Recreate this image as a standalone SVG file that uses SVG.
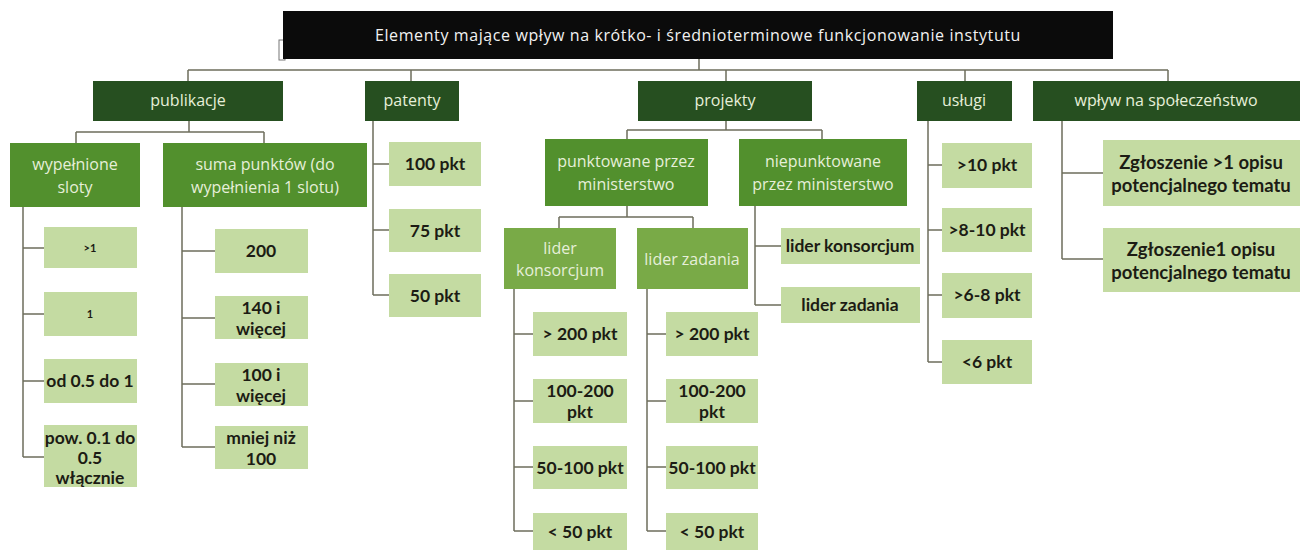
<svg xmlns="http://www.w3.org/2000/svg" width="1302" height="556" viewBox="0 0 1302 556">
<style>
.dark{fill:#264f20}
.mid{fill:#52902d}
.lid{fill:#79aa47}
.leaf{fill:#c4dba2}
.lt{font-family:"Open Sans","DejaVu Sans",sans-serif;font-size:16px;fill:#e6efd9;text-anchor:middle}
.ttl{letter-spacing:0.6px;fill:#f2f2f2}
.bt{font-family:Lato,"Liberation Sans",sans-serif;font-weight:700;font-size:17.5px;fill:#1c1c14;text-anchor:middle}
.sm{font-size:11px}
.big{font-size:18.5px}
.cn{fill:none;stroke:#6e6e5c;stroke-width:1.5}
</style>
<rect width="1302" height="556" fill="#ffffff"/>
<g id="connectors" class="cn">
<rect x="279" y="40" width="6" height="20" stroke="#777" stroke-width="1"/>
<path d="M699 59V70M188 70H1168M188 70V81M411 70V81M726 70V81M965 70V81M1168 70V81"/>
<path d="M189 121V132M76 132H264M76 132V143M264 132V143"/>
<path d="M23 207V457M23 248H44M23 314H44M23 381H44M23 457H44"/>
<path d="M182 207V447M182 251H215M182 318H215M182 384H215M182 447H215"/>
<path d="M373 121V295M373 164H389M373 230H389M373 295H389"/>
<path d="M726 120V130M627 130H822M627 130V139M822 130V139"/>
<path d="M627 206V217M559 217H693M559 217V228M693 217V228"/>
<path d="M514 289V531M514 334H533M514 401H533M514 467H533M514 531H533"/>
<path d="M647 289V531M647 334H666M647 401H666M647 467H666M647 531H666"/>
<path d="M755 206V305M755 246H781M755 305H781"/>
<path d="M928 121V362M928 165H942M928 230H942M928 295H942M928 362H942"/>
<path d="M1062 121V259M1062 173H1103M1062 259H1103"/>
</g>
<g id="root"><rect x="283" y="11" width="830" height="48" fill="#0b0b0b"/><text class="lt ttl" x="698" y="41">Elementy mające wpływ na krótko- i średnioterminowe funkcjonowanie instytutu</text></g>
<g id="publikacje"><rect class="dark" x="93" y="81" width="190" height="40"/><text class="lt" x="188" y="106">publikacje</text></g>
<g id="patenty"><rect class="dark" x="365" y="81" width="94" height="40"/><text class="lt" x="412" y="106">patenty</text></g>
<g id="projekty"><rect class="dark" x="638" y="81" width="174" height="40"/><text class="lt" x="725" y="106">projekty</text></g>
<g id="uslugi"><rect class="dark" x="917" y="81" width="95" height="40"/><text class="lt" x="964" y="106">usługi</text></g>
<g id="wplyw"><rect class="dark" x="1033" y="81" width="267" height="40"/><text class="lt" x="1166" y="106">wpływ na społeczeństwo</text></g>
<g id="wypelnione"><rect class="mid" x="10" y="143" width="130" height="64"/><text class="lt" x="75" y="170">wypełnione</text><text class="lt" x="75" y="193">sloty</text></g>
<g id="suma"><rect class="mid" x="163" y="143" width="204" height="64"/><text class="lt" x="265" y="170">suma punktów (do</text><text class="lt" x="265" y="193">wypełnienia 1 slotu)</text></g>
<g id="punktowane"><rect class="mid" x="545" y="139" width="163" height="67"/><text class="lt" x="626" y="167">punktowane przez</text><text class="lt" x="626" y="190">ministerstwo</text></g>
<g id="niepunktowane"><rect class="mid" x="739" y="139" width="168" height="67"/><text class="lt" x="823" y="167">niepunktowane</text><text class="lt" x="823" y="190">przez ministerstwo</text></g>
<g id="lider-konsorcjum-p"><rect class="lid" x="504" y="228" width="112" height="61"/><text class="lt" x="560" y="254">lider</text><text class="lt" x="560" y="276">konsorcjum</text></g>
<g id="lider-zadania-p"><rect class="lid" x="637" y="228" width="111" height="61"/><text class="lt" x="692" y="265">lider zadania</text></g>
<g id="s1"><rect class="leaf" x="44" y="227" width="93" height="41"/><text class="bt sm" x="90" y="252">&gt;1</text></g>
<g id="s2"><rect class="leaf" x="44" y="292" width="93" height="44"/><text class="bt sm" x="90" y="318">1</text></g>
<g id="s3"><rect class="leaf" x="44" y="359" width="93" height="44"/><text class="bt" x="90" y="387">od 0.5 do 1</text></g>
<g id="s4"><rect class="leaf" x="44" y="425" width="93" height="62"/><text class="bt" x="90" y="444">pow. 0.1 do</text><text class="bt" x="90" y="464">0.5</text><text class="bt" x="90" y="484">włącznie</text></g>
<g id="p1"><rect class="leaf" x="215" y="229" width="93" height="44"/><text class="bt" x="261" y="257">200</text></g>
<g id="p2"><rect class="leaf" x="215" y="296" width="93" height="43"/><text class="bt" x="261" y="314">140 i</text><text class="bt" x="261" y="335">więcej</text></g>
<g id="p3"><rect class="leaf" x="215" y="363" width="93" height="43"/><text class="bt" x="261" y="381">100 i</text><text class="bt" x="261" y="402">więcej</text></g>
<g id="p4"><rect class="leaf" x="215" y="426" width="93" height="43"/><text class="bt" x="261" y="444">mniej niż</text><text class="bt" x="261" y="465">100</text></g>
<g id="t1"><rect class="leaf" x="389" y="142" width="92" height="44"/><text class="bt" x="435" y="170">100 pkt</text></g>
<g id="t2"><rect class="leaf" x="389" y="209" width="92" height="43"/><text class="bt" x="435" y="237">75 pkt</text></g>
<g id="t3"><rect class="leaf" x="389" y="274" width="92" height="43"/><text class="bt" x="435" y="302">50 pkt</text></g>
<g id="lk1"><rect class="leaf" x="533" y="312" width="94" height="44"/><text class="bt" x="580" y="340">&gt; 200 pkt</text></g>
<g id="lk2"><rect class="leaf" x="533" y="379" width="94" height="44"/><text class="bt" x="580" y="397">100-200</text><text class="bt" x="580" y="418">pkt</text></g>
<g id="lk3"><rect class="leaf" x="533" y="446" width="94" height="43"/><text class="bt" x="580" y="474">50-100 pkt</text></g>
<g id="lk4"><rect class="leaf" x="533" y="513" width="94" height="37"/><text class="bt" x="580" y="538">&lt; 50 pkt</text></g>
<g id="lz1"><rect class="leaf" x="666" y="312" width="92" height="44"/><text class="bt" x="712" y="340">&gt; 200 pkt</text></g>
<g id="lz2"><rect class="leaf" x="666" y="379" width="92" height="44"/><text class="bt" x="712" y="397">100-200</text><text class="bt" x="712" y="418">pkt</text></g>
<g id="lz3"><rect class="leaf" x="666" y="446" width="92" height="43"/><text class="bt" x="712" y="474">50-100 pkt</text></g>
<g id="lz4"><rect class="leaf" x="666" y="513" width="92" height="37"/><text class="bt" x="712" y="538">&lt; 50 pkt</text></g>
<g id="nk"><rect class="leaf" x="781" y="228" width="139" height="36"/><text class="bt" x="850" y="252">lider konsorcjum</text></g>
<g id="nz"><rect class="leaf" x="781" y="287" width="139" height="36"/><text class="bt" x="850" y="311">lider zadania</text></g>
<g id="u1"><rect class="leaf" x="942" y="143" width="90" height="45"/><text class="bt" x="987" y="171">&gt;10 pkt</text></g>
<g id="u2"><rect class="leaf" x="942" y="208" width="90" height="44"/><text class="bt" x="987" y="236">&gt;8-10 pkt</text></g>
<g id="u3"><rect class="leaf" x="942" y="273" width="90" height="45"/><text class="bt" x="987" y="301">&gt;6-8 pkt</text></g>
<g id="u4"><rect class="leaf" x="942" y="340" width="90" height="44"/><text class="bt" x="987" y="368">&lt;6 pkt</text></g>
<g id="w1"><rect class="leaf" x="1103" y="140" width="197" height="66"/><text class="bt big" x="1201" y="169">Zgłoszenie &gt;1 opisu</text><text class="bt big" x="1201" y="192">potencjalnego tematu</text></g>
<g id="w2"><rect class="leaf" x="1103" y="228" width="197" height="64"/><text class="bt big" x="1201" y="256">Zgłoszenie1 opisu</text><text class="bt big" x="1201" y="279">potencjalnego tematu</text></g>
</svg>
